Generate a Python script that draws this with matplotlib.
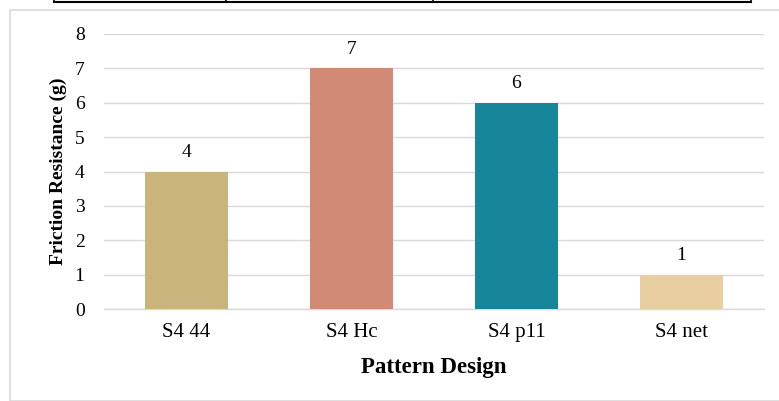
import matplotlib.pyplot as plt
from matplotlib.patches import Rectangle
from matplotlib.lines import Line2D

# Data
categories = ['S4 44', 'S4 Hc', 'S4 p11', 'S4 net']
values = [4, 7, 6, 1]
colors = ['#C9B57B', '#D08A76', '#17859A', '#E9CEA0']
yticks = [0, 1, 2, 3, 4, 5, 6, 7, 8]

plt.rcParams['font.family'] = ['Liberation Serif', 'DejaVu Serif']

W, H = 779, 401
fig = plt.figure(figsize=(W / 100, H / 100), dpi=100)
fig.patch.set_facecolor('white')

# Light gray frame around the chart area
fig.patches.append(Rectangle((10 / W, 0), 1.2, 1 - 10 / H, transform=fig.transFigure,
                             fill=False, edgecolor='#D9D9D9', linewidth=1.2))

# Fragment of a table border at the very top
fig.add_artist(Line2D([54 / W, 751 / W], [1 - 2 / H, 1 - 2 / H], transform=fig.transFigure,
                      color='black', linewidth=1.5))
for xp in [54, 226, 433, 751]:
    fig.add_artist(Line2D([xp / W, xp / W], [1 - 2 / H, 1.0], transform=fig.transFigure,
                          color='black', linewidth=1.2))

# Axes placed to match the plot area: x 104..764, y 34..309 (pixels from top)
ax = fig.add_axes([104 / W, 1 - 309 / H, 660 / W, 275 / H])
x = range(len(categories))
bars = ax.bar(x, values, width=0.5, color=colors, zorder=3)

ax.set_xlim(-0.5, len(categories) - 0.5)
ax.set_ylim(0, 8)
ax.set_yticks(yticks)
ax.set_xticks(list(x))
ax.set_xticklabels(categories, fontsize=15)
ax.tick_params(axis='y', labelsize=14, length=0, pad=14)
ax.tick_params(axis='x', length=0, pad=10)
ax.yaxis.grid(True, color='#D9D9D9', linewidth=1, zorder=0)
for s in ['top', 'right', 'left']:
    ax.spines[s].set_visible(False)
ax.spines['bottom'].set_color('#D9D9D9')
ax.spines['bottom'].set_linewidth(1)

# Value labels above each bar
for b, v in zip(bars, values):
    ax.text(b.get_x() + b.get_width() / 2, v + 0.3, str(v), ha='center', va='bottom', fontsize=14)

ax.set_ylabel('Friction Resistance (g)', fontsize=14, fontweight='bold', va='center')
ax.yaxis.set_label_coords(-0.069, 0.5)
ax.set_xlabel('Pattern Design', fontsize=16.5, fontweight='bold', va='center')
ax.xaxis.set_label_coords(0.5, -0.212)

fig.savefig('out.png', dpi=100)
